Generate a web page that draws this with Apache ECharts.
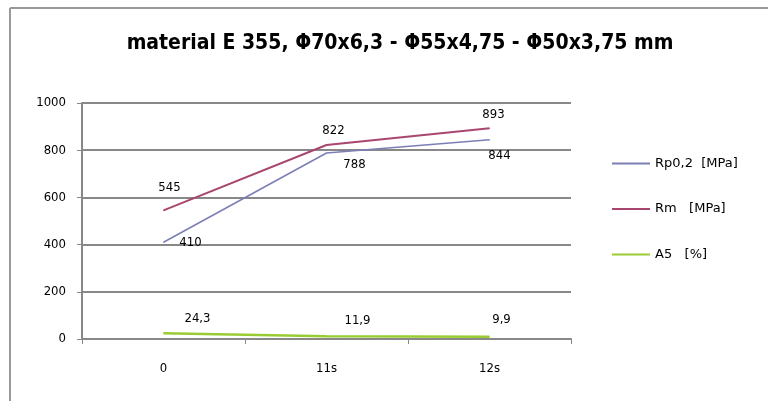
<!DOCTYPE html>
<html><head><meta charset="utf-8">
<script src="https://cdn.jsdelivr.net/npm/echarts@6/dist/echarts.min.js"></script>
<style>html,body{margin:0;padding:0;background:#fff}#c{width:768px;height:401px}</style>
</head><body><div id="c"></div>
<script>
const titleText = 'material E 355, Φ70x6,3 - Φ55x4,75 - Φ50x3,75 mm';
const categories = ['0', '11s', '12s'];
const rp02 = [410, 788, 844];
const rm = [545, 822, 893];
const a5 = [24.3, 11.9, 9.9];
const seriesNames = ['Rp0,2  [MPa]', 'Rm   [MPa]', 'A5   [%]'];
const yTicks = [0, 200, 400, 600, 800, 1000];

// label offsets (label centre relative to the point), per series
const rpOffsets = [[27, 0], [28, 12], [10, 16]];
const rmOffsets = [[6, -23], [7, -14], [4, -14]];
const a5Offsets = [[34, -15], [31, -16], [12, -17]];

const font = 'DejaVu Sans Condensed, DejaVu Sans, sans-serif';
const chart = echarts.init(document.getElementById('c'));
const fmt = p => String(p.value).replace('.', ',');
const withLabels = (vals, offs) => vals.map((v, i) => ({ value: v, label: { offset: offs[i] } }));
const mkSeries = (name, vals, offs, color, width) => ({
  name, type: 'line', data: withLabels(vals, offs),
  symbol: 'circle', symbolSize: 1, showSymbol: true,
  lineStyle: { color, width }, itemStyle: { color },
  label: { show: true, position: 'inside', formatter: fmt,
    fontFamily: font, fontSize: 13, color: '#000' }
});
chart.setOption({
  animation: false,
  backgroundColor: '#fff',
  title: { text: titleText, left: 395, textAlign: 'center', top: 28,
    textStyle: { fontFamily: font, fontSize: 21, fontWeight: 'bold', color: '#000' } },
  legend: { orient: 'vertical', left: 612, top: 157, padding: 0, itemGap: 32.5, itemWidth: 38, itemHeight: 2,
    icon: 'rect', textStyle: { fontFamily: 'DejaVu Sans, sans-serif', fontSize: 13, color: '#000' }, data: seriesNames },
  grid: { left: 82, right: 197, top: 103, bottom: 62 },
  xAxis: { type: 'category', data: categories, boundaryGap: true,
    axisLine: { lineStyle: { color: '#888', width: 2 } },
    axisTick: { show: true, length: 5, lineStyle: { color: '#888' } },
    axisLabel: { fontFamily: font, fontSize: 13, color: '#000', margin: 23 } },
  yAxis: { type: 'value', min: yTicks[0], max: yTicks[yTicks.length - 1], interval: 200,
    axisLine: { show: true, lineStyle: { color: '#888', width: 2 } },
    axisTick: { show: true, length: 5, inside: false, lineStyle: { color: '#888' } },
    splitLine: { lineStyle: { color: '#888', width: 2 } },
    axisLabel: { fontFamily: font, fontSize: 13, color: '#000', margin: 16, formatter: v => String(v) } },
  graphic: [
    { type: 'line', shape: { x1: 10, y1: 8, x2: 768, y2: 8 }, style: { stroke: '#999', lineWidth: 2 } },
    { type: 'line', shape: { x1: 10, y1: 8, x2: 10, y2: 401 }, style: { stroke: '#999', lineWidth: 2 } }
  ],
  series: [
    mkSeries(seriesNames[0], rp02, rpOffsets, '#7b7fb5', 1.5),
    mkSeries(seriesNames[1], rm, rmOffsets, '#a9466f', 2),
    mkSeries(seriesNames[2], a5, a5Offsets, '#99cc33', 2.5)
  ]
});
</script></body></html>
